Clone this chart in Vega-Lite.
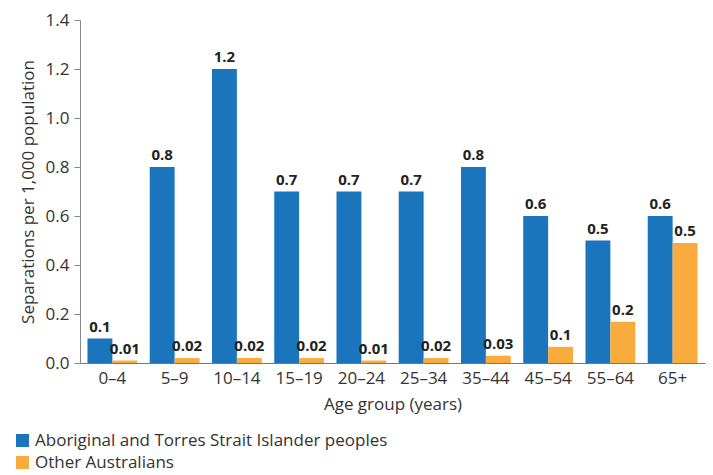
{
  "$schema": "https://vega.github.io/schema/vega-lite/v6.json",
  "width": 625,
  "height": 343,
  "autosize": "none",
  "padding": {"left": 80, "top": 20, "right": 8, "bottom": 112},
  "background": "white",
  "config": {
    "font": "Open Sans",
    "view": {"stroke": null},
    "axis": {"labelFont": "Open Sans", "titleFont": "Open Sans", "labelColor": "#333", "titleColor": "#333", "domainColor": "#888", "tickColor": "#888", "titleFontWeight": "normal"}
  },
  "data": {
    "values": [
      {"age": "0–4", "group": "Aboriginal and Torres Strait Islander peoples", "value": 0.1, "label": "0.1"},
      {"age": "0–4", "group": "Other Australians", "value": 0.01, "label": "0.01"},
      {"age": "5–9", "group": "Aboriginal and Torres Strait Islander peoples", "value": 0.8, "label": "0.8"},
      {"age": "5–9", "group": "Other Australians", "value": 0.02, "label": "0.02"},
      {"age": "10–14", "group": "Aboriginal and Torres Strait Islander peoples", "value": 1.2, "label": "1.2"},
      {"age": "10–14", "group": "Other Australians", "value": 0.02, "label": "0.02"},
      {"age": "15–19", "group": "Aboriginal and Torres Strait Islander peoples", "value": 0.7, "label": "0.7"},
      {"age": "15–19", "group": "Other Australians", "value": 0.02, "label": "0.02"},
      {"age": "20–24", "group": "Aboriginal and Torres Strait Islander peoples", "value": 0.7, "label": "0.7"},
      {"age": "20–24", "group": "Other Australians", "value": 0.01, "label": "0.01"},
      {"age": "25–34", "group": "Aboriginal and Torres Strait Islander peoples", "value": 0.7, "label": "0.7"},
      {"age": "25–34", "group": "Other Australians", "value": 0.02, "label": "0.02"},
      {"age": "35–44", "group": "Aboriginal and Torres Strait Islander peoples", "value": 0.8, "label": "0.8"},
      {"age": "35–44", "group": "Other Australians", "value": 0.03, "label": "0.03"},
      {"age": "45–54", "group": "Aboriginal and Torres Strait Islander peoples", "value": 0.6, "label": "0.6"},
      {"age": "45–54", "group": "Other Australians", "value": 0.066, "label": "0.1"},
      {"age": "55–64", "group": "Aboriginal and Torres Strait Islander peoples", "value": 0.5, "label": "0.5"},
      {"age": "55–64", "group": "Other Australians", "value": 0.168, "label": "0.2"},
      {"age": "65+", "group": "Aboriginal and Torres Strait Islander peoples", "value": 0.6, "label": "0.6"},
      {"age": "65+", "group": "Other Australians", "value": 0.49, "label": "0.5"}
    ]
  },
  "encoding": {
    "x": {
      "field": "age", "type": "nominal", "sort": null,
      "scale": {"paddingInner": 0.2, "paddingOuter": 0.12},
      "axis": {"title": "Age group (years)", "labelAngle": 0, "labelFontSize": 17, "titleFontSize": 17, "ticks": false, "labelPadding": 7, "titlePadding": 10, "domainColor": "#777"}
    },
    "xOffset": {"field": "group", "type": "nominal", "scale": {"paddingInner": 0}},
    "y": {
      "field": "value", "type": "quantitative",
      "scale": {"domain": [0, 1.4]},
      "axis": {"title": "Separations per 1,000 population", "values": [0, 0.2, 0.4, 0.6, 0.8, 1.0, 1.2, 1.4], "format": ".1f", "grid": false, "labelFontSize": 17, "titleFontSize": 17, "tickSize": 6, "titlePadding": 8, "labelPadding": 5}
    }
  },
  "layer": [
    {
      "mark": {"type": "bar"},
      "encoding": {
        "color": {
          "field": "group", "type": "nominal",
          "scale": {"range": ["#1a75bc", "#f9ac3d"]},
          "legend": {"title": null, "orient": "none", "legendX": -66, "legendY": 412, "direction": "vertical", "symbolType": "square", "symbolSize": 170, "symbolStrokeWidth": 0, "labelFontSize": 17, "labelColor": "#333", "rowPadding": 4, "labelLimit": 600, "labelFont": "Open Sans"}
        }
      }
    },
    {
      "mark": {"type": "text", "dy": -12, "fontSize": 15, "fontWeight": "bold", "color": "#222"},
      "encoding": {"text": {"field": "label"}}
    }
  ]
}
